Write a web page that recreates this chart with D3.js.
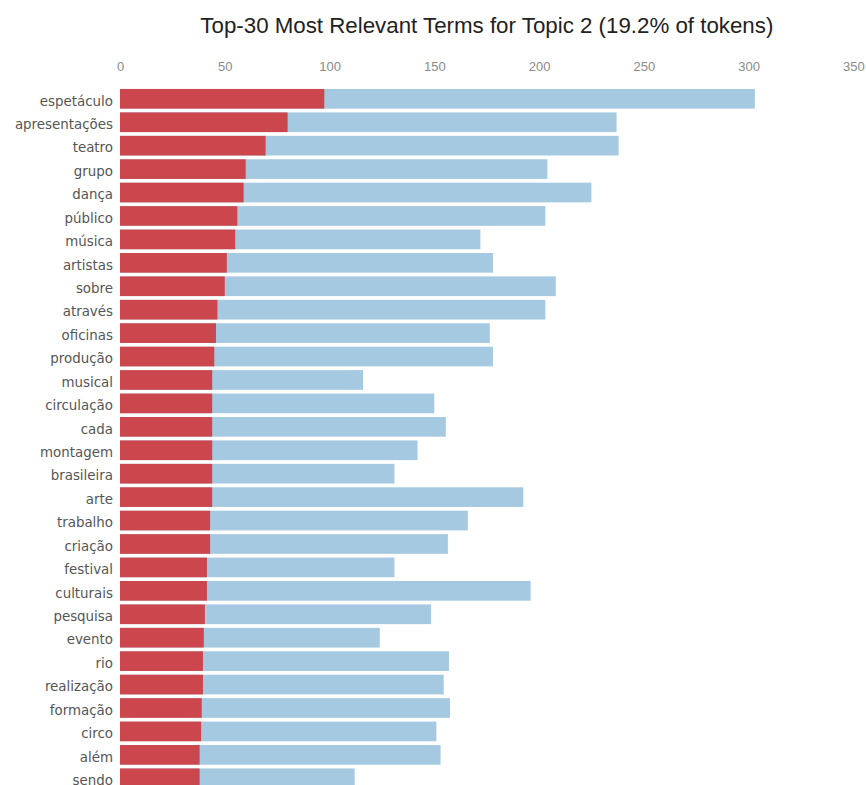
<!DOCTYPE html>
<html>
<head>
<meta charset="utf-8">
<script src="https://cdn.jsdelivr.net/npm/d3@7"></script>
<style>
  html, body { margin: 0; padding: 0; background: #fff; }
  svg { display: block; }
</style>
</head>
<body>
<svg id="chart" width="866" height="785"></svg>
<script>
const titleText = "Top-30 Most Relevant Terms for Topic 2 (19.2% of tokens)";

const terms = [
  "espetáculo","apresentações","teatro","grupo","dança","público","música","artistas","sobre","através",
  "oficinas","produção","musical","circulação","cada","montagem","brasileira","arte","trabalho","criação",
  "festival","culturais","pesquisa","evento","rio","realização","formação","circo","além","sendo"
];

// Overall term frequency (light blue bars)
const overallFreq = [
  303, 237, 238, 204, 225, 203, 172, 178, 208, 203,
  176.5, 178, 116, 150, 155.5, 142, 131, 192.5, 166, 156.5,
  131, 196, 148.5, 124, 157, 154.5, 157.5, 151, 153, 112
];

// Estimated term frequency within the selected topic (red bars)
const topicFreq = [
  97.5, 80, 69.5, 60, 59, 56, 55, 51, 50, 46.5,
  45.8, 45, 44, 44, 44, 44, 44, 44, 43, 43,
  41.5, 41.5, 40.5, 40, 39.6, 39.6, 39, 38.7, 38, 38
];

const tickValues = [0, 50, 100, 150, 200, 250, 300, 350];

const svg = d3.select("#chart");

const x = d3.scaleLinear().domain([0, 350]).range([120, 853.3]);
const y = d3.scaleBand()
  .domain(terms)
  .range([87.1, 87.1 + 30 * 23.43])
  .paddingInner(0.16)
  .paddingOuter(0.08);

const rows = terms.map((t, i) => ({ term: t, overall: overallFreq[i], topic: topicFreq[i] }));

// Title
svg.append("text")
  .attr("x", (200.7 + 773) / 2)
  .attr("y", 32.5)
  .attr("text-anchor", "middle")
  .style("font-family", "'Liberation Sans', Arial, sans-serif")
  .style("font-size", "22.3px")
  .style("fill", "#222")
  .text(titleText);

// Axis (top), tick labels only
const axis = d3.axisTop(x).tickValues(tickValues).tickSize(0).tickPadding(0);
const gAxis = svg.append("g")
  .attr("transform", "translate(0,71)")
  .call(axis);
gAxis.select(".domain").remove();
gAxis.selectAll("text")
  .attr("dy", 0)
  .style("font-family", "'Liberation Sans', Arial, sans-serif")
  .style("font-size", "13px")
  .style("fill", "#8a8a8a");

// Overall frequency bars
svg.append("g").selectAll("rect")
  .data(rows)
  .join("rect")
  .attr("x", x(0))
  .attr("y", d => y(d.term))
  .attr("width", d => x(d.overall) - x(0))
  .attr("height", y.bandwidth())
  .attr("fill", "#1f77b4")
  .attr("opacity", 0.4);

// Topic-specific bars
svg.append("g").selectAll("rect")
  .data(rows)
  .join("rect")
  .attr("x", x(0))
  .attr("y", d => y(d.term))
  .attr("width", d => x(d.topic) - x(0))
  .attr("height", y.bandwidth())
  .attr("fill", "#d62728")
  .attr("opacity", 0.8);

// Term labels
svg.append("g").selectAll("text")
  .data(rows)
  .join("text")
  .attr("x", x(0) - 7)
  .attr("y", d => y(d.term) + y.bandwidth() / 2)
  .attr("dy", "0.5em")
  .attr("text-anchor", "end")
  .style("font-family", "'DejaVu Sans', sans-serif")
  .style("font-size", "13.4px")
  .style("fill", "#555")
  .text(d => d.term);
</script>
</body>
</html>
